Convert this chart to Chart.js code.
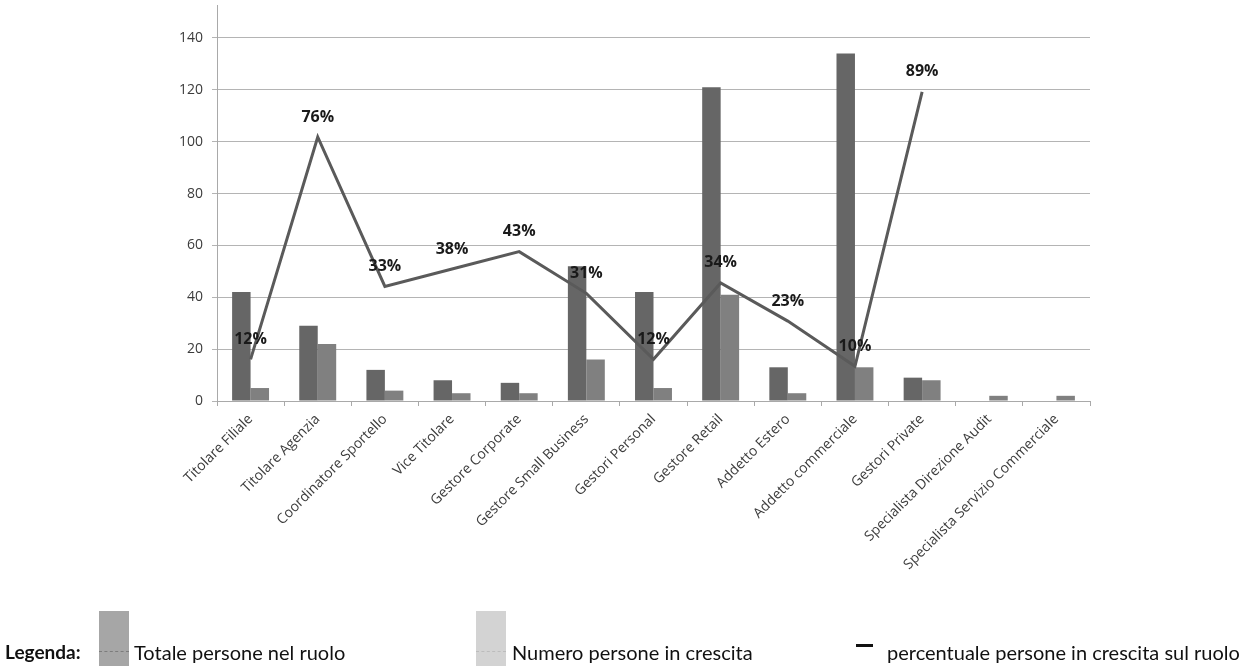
<!DOCTYPE html>
<html>
<head>
<meta charset="utf-8">
<script src="https://cdn.jsdelivr.net/npm/chart.js@4/dist/chart.umd.min.js"></script>
<style>
  html, body { margin: 0; padding: 0; background: #ffffff; }
  body { width: 1245px; height: 666px; position: relative; overflow: hidden; }
  #chart { position: absolute; left: 0; top: 0; }
  .legend { position: absolute; left: 0; top: 0; width: 1245px; height: 666px; pointer-events: none;
            font-family: Lato, "Noto Sans", sans-serif; font-size: 20px; color: #111; }
  .legend .txt { position: absolute; top: 640px; line-height: 24px; white-space: nowrap; }
  .legend .title { font-weight: bold; font-size: 19px; }
  .legend .sw { position: absolute; top: 611px; width: 30px; height: 55px; }
  .legend .sw .dash { position: absolute; left: 0; right: 0; top: 40px; height: 0; border-top: 1px dashed; }
  .legend .line { position: absolute; top: 644px; height: 3px; background: #111; }
</style>
</head>
<body>
<canvas id="chart" width="1245" height="605"></canvas>
<div class="legend">
  <div class="txt title" style="left:5px">Legenda:</div>
  <div class="sw" style="left:99px;background:#a6a6a6"><div class="dash" style="border-color:#7c7c7c"></div></div>
  <div class="txt" style="left:134px">Totale persone nel ruolo</div>
  <div class="sw" style="left:476px;background:#d3d3d3"><div class="dash" style="border-color:#bcbcbc"></div></div>
  <div class="txt" style="left:512px">Numero persone in crescita</div>
  <div class="line" style="left:856px;width:17px"></div>
  <div class="txt" style="left:887px">percentuale persone in crescita sul ruolo</div>
</div>
<script>
// Ruoli (categorie dell'asse X)
const roles = [
  'Titolare Filiale', 'Titolare Agenzia', 'Coordinatore Sportello', 'Vice Titolare',
  'Gestore Corporate', 'Gestore Small Business', 'Gestori Personal', 'Gestore Retail',
  'Addetto Estero', 'Addetto commerciale', 'Gestori Private',
  'Specialista Direzione Audit', 'Specialista Servizio Commerciale'
];
// Totale persone nel ruolo
const totalPeople = [42, 29, 12, 8, 7, 52, 42, 121, 13, 134, 9, 0, 0];
// Numero persone in crescita
const growingPeople = [5, 22, 4, 3, 3, 16, 5, 41, 3, 13, 8, 2, 2];
// Percentuale persone in crescita sul ruolo
const growthPct = [12, 76, 33, 38, 43, 31, 12, 34, 23, 10, 89, null, null];
// Etichette dell'asse Y
const yTicks = [0, 20, 40, 60, 80, 100, 120, 140];

const FONT = '"Open Sans", "Noto Sans", sans-serif';

const pctLabels = {
  id: 'pctLabels',
  afterDatasetsDraw(chart) {
    const meta = chart.getDatasetMeta(2);
    const ctx = chart.ctx;
    ctx.save();
    ctx.font = 'bold 16px ' + FONT;
    ctx.fillStyle = '#1a1a1a';
    ctx.textAlign = 'center';
    ctx.textBaseline = 'middle';
    meta.data.forEach((pt, i) => {
      const v = growthPct[i];
      if (v === null || v === undefined) return;
      ctx.fillText(v + '%', pt.x, pt.y - 20);
    });
    ctx.restore();
  }
};

function draw() {
  Chart.defaults.font.family = FONT;
  Chart.defaults.color = '#404040';

  new Chart(document.getElementById('chart'), {
    type: 'bar',
    data: {
      labels: roles,
      datasets: [
        {
          label: 'Totale persone nel ruolo',
          data: totalPeople,
          backgroundColor: '#666666',
          categoryPercentage: 0.55,
          barPercentage: 1.0,
          order: 1
        },
        {
          label: 'Numero persone in crescita',
          data: growingPeople,
          backgroundColor: '#808080',
          categoryPercentage: 0.55,
          barPercentage: 1.0,
          order: 1
        },
        {
          type: 'line',
          label: 'percentuale persone in crescita sul ruolo',
          data: growthPct,
          yAxisID: 'y2',
          borderColor: '#5a5a5a',
          borderWidth: 3,
          pointRadius: 0,
          tension: 0,
          fill: false,
          spanGaps: false,
          order: 0
        }
      ]
    },
    options: {
      responsive: false,
      animation: false,
      devicePixelRatio: 1,
      layout: { padding: { top: 5, right: 155, left: 0, bottom: 0 } },
      plugins: { legend: { display: false }, tooltip: { enabled: false } },
      scales: {
        x: {
          offset: true,
          grid: { display: true, drawOnChartArea: false, drawTicks: true, tickLength: 5, color: '#a9a9a9', offset: true },
          border: { display: true, color: '#a9a9a9', width: 1 },
          ticks: { autoSkip: false, minRotation: 45, maxRotation: 45, padding: 5,
                   font: { size: 14, family: FONT }, color: '#3c3c3c' },
          afterFit(scale) {
            scale.height = 204;
            scale.paddingLeft = 0; scale.paddingRight = 0;
          }
        },
        y: {
          min: 0,
          max: 152.7,
          afterBuildTicks(scale) { scale.ticks = yTicks.map(v => ({ value: v })); },
          grid: { color: '#b4b4b4', lineWidth: 1, tickLength: 5, drawTicks: true },
          border: { display: true, color: '#a9a9a9', width: 1 },
          ticks: { padding: 9, font: { size: 14, family: FONT }, color: '#3c3c3c' },
          afterFit(scale) {
            scale.width = 217;
            scale.paddingTop = 0; scale.paddingBottom = 0;
          }
        },
        y2: {
          display: false,
          min: 0,
          max: 114
        }
      }
    },
    plugins: [pctLabels]
  });
}

const fontLoads = [
  '14px "Open Sans"', 'bold 16px "Open Sans"', '14px "Noto Sans"',
  '20px Lato', 'bold 20px Lato'
].map(f => document.fonts.load(f).catch(() => null));
Promise.all(fontLoads).then(draw, draw);
</script>
</body>
</html>
